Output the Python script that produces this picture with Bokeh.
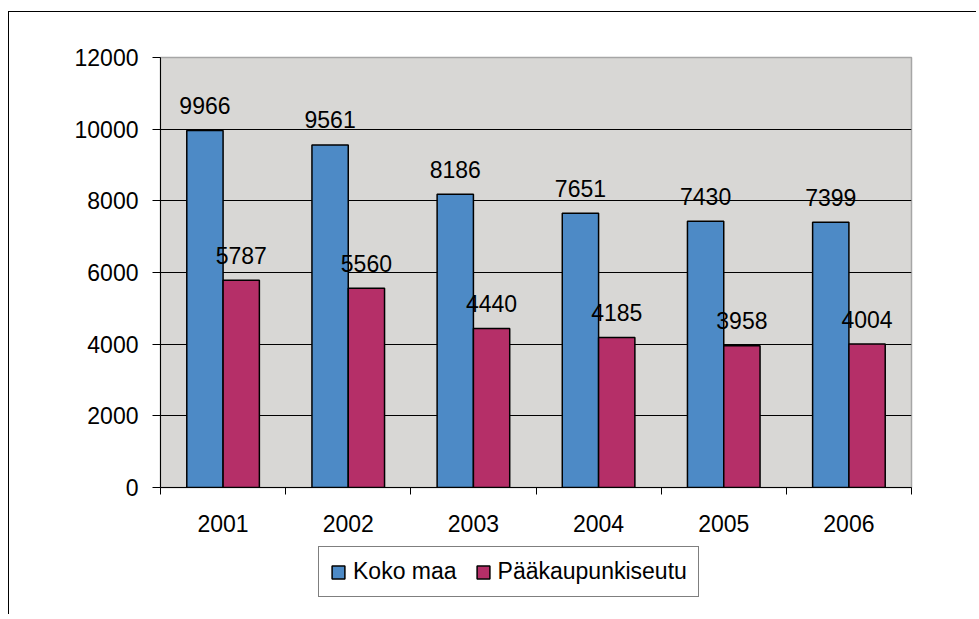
import numpy as np
from bokeh.plotting import figure
from bokeh.layouts import column
from bokeh.models import FixedTicker, Legend, LegendItem, Range1d, NumeralTickFormatter
from bokeh.core.properties import value
from bokeh.embed import file_html
from bokeh.resources import INLINE

years = ["2001", "2002", "2003", "2004", "2005", "2006"]
koko_maa = [9966, 9561, 8186, 7651, 7430, 7399]
paakaupunkiseutu = [5787, 5560, 4440, 4185, 3958, 4004]
y_ticks = [0, 2000, 4000, 6000, 8000, 10000, 12000]
series_names = ["Koko maa", "Pääkaupunkiseutu"]

BLUE = "#4D8AC6"
RED = "#B52F68"
FONT = "Liberation Sans"
FS = "23px"
BORDER = "1px solid black"

n = len(years)
centers = np.arange(n) + 0.5
bw = 0.29

p = figure(width=968, height=534,
           x_range=Range1d(0, n), y_range=Range1d(0, 12000),
           output_backend="svg", toolbar_location=None,
           min_border_left=151, min_border_right=66,
           min_border_top=45, min_border_bottom=59,
           background_fill_color="#D8D7D5", border_fill_color="white",
           outline_line_color="#A6A6A6", outline_line_width=1.5,
           styles={"border-top": BORDER, "border-left": BORDER},
           margin=(11, 0, 0, 8))

r1 = p.vbar(x=centers - bw / 2, top=koko_maa, width=bw, fill_color=BLUE,
            line_color="black", line_width=1.5)
r2 = p.vbar(x=centers + bw / 2, top=paakaupunkiseutu, width=bw, fill_color=RED,
            line_color="black", line_width=1.5)

p.text(x=centers - bw / 2, y=koko_maa, text=[str(v) for v in koko_maa],
       text_align="center", text_baseline="alphabetic", y_offset=-25,
       text_font=value(FONT), text_font_size=FS, text_color="black")
p.text(x=centers + bw / 2, y=paakaupunkiseutu, text=[str(v) for v in paakaupunkiseutu],
       text_align="center", text_baseline="alphabetic", y_offset=-25,
       text_font=value(FONT), text_font_size=FS, text_color="black")

# grid
p.xgrid.visible = False
p.ygrid.ticker = FixedTicker(ticks=y_ticks[1:-1])
p.ygrid.grid_line_color = "black"
p.ygrid.grid_line_width = 1

# y axis
p.yaxis.ticker = FixedTicker(ticks=y_ticks)
p.yaxis.formatter = NumeralTickFormatter(format="0")
p.yaxis.major_tick_out = 8
p.yaxis.major_tick_in = 0
p.yaxis.minor_tick_out = 0
p.yaxis.minor_tick_in = 0
p.yaxis.major_label_standoff = 14
p.yaxis.axis_line_color = "black"
p.yaxis.major_tick_line_color = "black"
p.yaxis.major_label_text_font = FONT
p.yaxis.major_label_text_font_size = FS
p.yaxis.major_label_text_color = "black"

# x axis: labels at centers, ticks at boundaries
p.xaxis.ticker = FixedTicker(ticks=list(centers), minor_ticks=list(range(n + 1)))
p.xaxis.major_label_overrides = {float(c): y for c, y in zip(centers, years)}
p.xaxis.major_tick_out = 0
p.xaxis.major_tick_in = 0
p.xaxis.minor_tick_out = 7
p.xaxis.minor_tick_in = 0
p.xaxis.minor_tick_line_color = "black"
p.xaxis.major_label_standoff = 20
p.xaxis.axis_line_color = "black"
p.xaxis.major_label_text_font = FONT
p.xaxis.major_label_text_font_size = FS
p.xaxis.major_label_text_color = "black"

# legend strip below the chart (same series; renderers hidden, only legend drawn)
p2 = figure(width=968, height=69, output_backend="svg", toolbar_location=None,
            x_range=Range1d(1000, 1001), y_range=Range1d(-2e6, -1e6),
            x_axis_location=None, y_axis_location=None, min_border=0,
            outline_line_color=None, background_fill_color="white",
            styles={"border-left": BORDER}, margin=(0, 0, 0, 8))
p2.grid.visible = False
k1 = p2.vbar(x=centers - bw / 2, top=koko_maa, width=bw, fill_color=BLUE,
             line_color="black", line_width=1.5, visible=False)
k2 = p2.vbar(x=centers + bw / 2, top=paakaupunkiseutu, width=bw, fill_color=RED,
             line_color="black", line_width=1.5, visible=False)

legend = Legend(items=[LegendItem(label=series_names[0], renderers=[k1]),
                       LegendItem(label=series_names[1], renderers=[k2])],
                orientation="horizontal", location=(158, 17),
                border_line_color="black", border_line_width=1,
                background_fill_color="white", background_fill_alpha=1,
                label_text_font=FONT, label_text_font_size=FS,
                label_text_color="black",
                glyph_width=16, glyph_height=16, padding=11, spacing=18,
                label_standoff=7, margin=0)
p2.add_layout(legend)

layout = column(p, p2, spacing=0)
open("out.html", "w").write(file_html(layout, INLINE))
